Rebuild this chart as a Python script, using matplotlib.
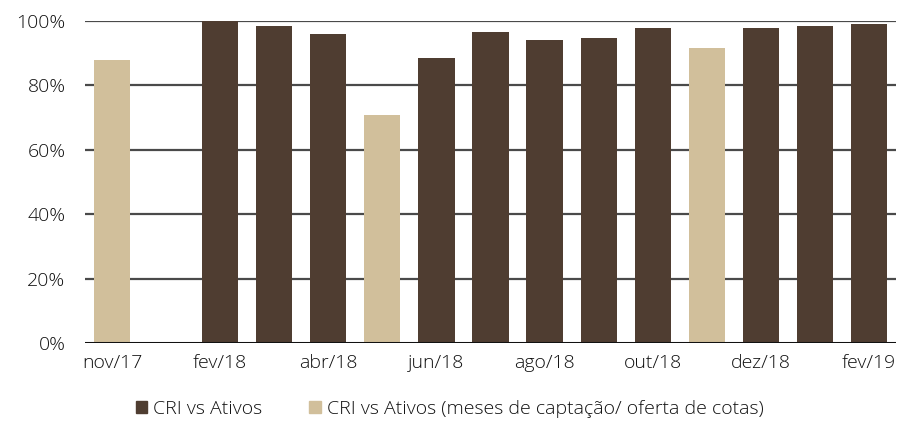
import numpy as np
import matplotlib
matplotlib.use("Agg")
import matplotlib.pyplot as plt
from matplotlib.patches import Patch

plt.rcParams['font.family'] = ['Open Sans', 'DejaVu Sans']
plt.rcParams['font.weight'] = 'light'

months = ["nov/17", "dez/17", "fev/18", "mar/18", "abr/18", "mai/18", "jun/18",
          "jul/18", "ago/18", "set/18", "out/18", "nov/18", "dez/18", "jan/19", "fev/19"]
cri_ativos = [np.nan, np.nan, 100, 98.5, 96, np.nan, 88.5,
              96.6, 94.1, 94.7, 97.8, np.nan, 97.8, 98.5, 99.1]
cri_captacao = [88, np.nan, np.nan, np.nan, np.nan, 70.8, np.nan,
                np.nan, np.nan, np.nan, np.nan, 91.6, np.nan, np.nan, np.nan]

dark = "#4f3d31"
tan = "#d1bf9b"

fig = plt.figure(figsize=(8.99, 4.29), dpi=100)
ax = fig.add_axes([85/899, 1 - 343/429, 811/899, 322/429])

x = np.arange(len(months))
ax.bar(x, cri_ativos, width=0.67, color=dark, zorder=3)
ax.bar(x, cri_captacao, width=0.67, color=tan, zorder=3)

ax.set_xlim(-0.5, len(months) - 0.5)
ax.set_ylim(0, 100)
ax.set_yticks(np.arange(0, 101, 20))
ax.set_yticklabels([f"{v}%" for v in range(0, 101, 20)])
ax.set_xticks(x[::2])
ax.set_xticklabels(months[::2])
ax.tick_params(length=0, labelsize=14, colors="#111111")
ax.tick_params(axis='x', pad=8)
ax.tick_params(axis='y', pad=14)

for v in range(20, 101, 20):
    ax.axhline(v, color="#4a4a4a", lw=1.6, zorder=1)
ax.axhline(0, color="#111111", lw=2.2, zorder=4)

for s in ax.spines.values():
    s.set_visible(False)

handles = [Patch(color=dark, label="CRI vs Ativos"),
           Patch(color=tan, label="CRI vs Ativos (meses de captação/ oferta de cotas)")]
fig.legend(handles=handles, loc="center", bbox_to_anchor=(0.5, 1 - 409/429),
           ncol=2, frameon=False, fontsize=14, handlelength=0.6, handleheight=0.6,
           handletextpad=0.3, columnspacing=2.4, labelcolor="#111111")

fig.savefig("out.png", dpi=100)
